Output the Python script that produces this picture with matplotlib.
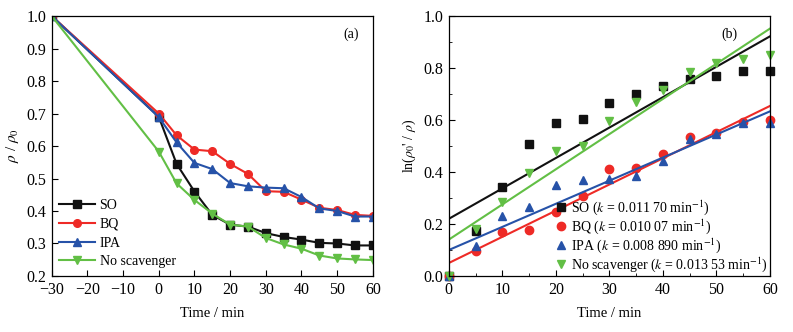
import matplotlib
matplotlib.use("Agg")
import matplotlib.pyplot as plt
import numpy as np

plt.rcParams['font.family'] = ['Liberation Serif', 'DejaVu Serif']
plt.rcParams['mathtext.fontset'] = 'stix'

# Panel (a)
time_a = [-30, 0, 5, 10, 15, 20, 25, 30, 35, 40, 45, 50, 55, 60]
so_a = [1.0, 0.69, 0.545, 0.46, 0.388, 0.358, 0.352, 0.332, 0.320, 0.312, 0.302, 0.300, 0.294, 0.294]
bq_a = [1.0, 0.70, 0.633, 0.589, 0.584, 0.545, 0.514, 0.461, 0.459, 0.435, 0.410, 0.403, 0.388, 0.385]
ipa_a = [1.0, 0.689, 0.611, 0.548, 0.529, 0.486, 0.476, 0.472, 0.470, 0.443, 0.408, 0.400, 0.383, 0.383]
no_a = [1.0, 0.583, 0.485, 0.434, 0.392, 0.358, 0.352, 0.317, 0.297, 0.284, 0.263, 0.254, 0.251, 0.249]

# Panel (b)
time_b = [0, 5, 10, 15, 20, 25, 30, 35, 40, 45, 50, 55, 60]
so_b = [0.0, 0.174, 0.341, 0.508, 0.589, 0.604, 0.665, 0.700, 0.731, 0.758, 0.768, 0.789, 0.789]
bq_b = [0.0, 0.097, 0.169, 0.178, 0.247, 0.307, 0.410, 0.416, 0.470, 0.536, 0.549, 0.594, 0.599]
ipa_b = [0.0, 0.117, 0.229, 0.265, 0.350, 0.370, 0.373, 0.383, 0.441, 0.527, 0.545, 0.588, 0.588]
no_b = [0.0, 0.180, 0.285, 0.395, 0.480, 0.500, 0.595, 0.670, 0.715, 0.785, 0.820, 0.835, 0.850]
slopes = [0.01170, 0.01007, 0.008890, 0.01353]
intercepts = [0.22, 0.05, 0.10, 0.14]
labels_a = ['SO', 'BQ', 'IPA', 'No scavenger']
labels_b = [r'SO ($k$ = 0.011 70 min$^{-1}$)', r'BQ ($k$ = 0.010 07 min$^{-1}$)',
            r'IPA ($k$ = 0.008 890 min$^{-1}$)', r'No scavenger ($k$ = 0.013 53 min$^{-1}$)']

colors = ['#111111', '#ee2a26', '#2652a8', '#62bf45']
markers = ['s', 'o', '^', 'v']

fig = plt.figure(figsize=(7.93, 3.32), dpi=100)
ax1 = fig.add_axes([0.0652, 0.1687, 0.405, 0.783])
ax2 = fig.add_axes([0.566, 0.1687, 0.405, 0.783])

tfs = 11.5
lfs = 10
for ys, c, m, lab in zip([so_a, bq_a, ipa_a, no_a], colors, markers, labels_a):
    ax1.plot(time_a, ys, color=c, marker=m, markersize=5.5, lw=1.5, label=lab)
ax1.set_xlim(-30, 60)
ax1.set_ylim(0.2, 1.0)
ax1.set_xticks(np.arange(-30, 61, 10))
ax1.set_yticks(np.arange(0.2, 1.01, 0.1))
ax1.set_xticklabels(['\u221230', '\u221220', '\u221210', '0', '10', '20', '30', '40', '50', '60'])
ax1.set_xlabel('Time / min', fontsize=lfs + 0.5, labelpad=7)
ax1.set_ylabel(r'$\rho$ / $\rho_0$', fontsize=lfs + 1)
ax1.text(0.955, 0.955, '(a)', transform=ax1.transAxes, ha='right', va='top', fontsize=lfs)
ax1.legend(loc='lower left', frameon=False, fontsize=lfs, handlelength=2.6,
           borderaxespad=0.25, labelspacing=0.42, handletextpad=0.3, borderpad=0.3)

tline = np.linspace(0, 60, 50)
for ys, c, m, lab, s, b in zip([so_b, bq_b, ipa_b, no_b], colors, markers, labels_b, slopes, intercepts):
    ax2.plot(time_b, ys, linestyle='none', color=c, marker=m, markersize=6, label=lab, clip_on=False)
    ax2.plot(tline, b + s * tline, color=c, lw=1.5)
ax2.set_xlim(0, 60)
ax2.set_ylim(0, 1.0)
ax2.set_xticks(np.arange(0, 61, 10))
ax2.set_xticks(np.arange(0, 61, 5), minor=True)
ax2.set_yticks(np.arange(0, 1.01, 0.2))
ax2.set_yticks(np.arange(0, 1.01, 0.1), minor=True)
ax2.set_xlabel('Time / min', fontsize=lfs + 0.5, labelpad=7)
ax2.set_ylabel(r"ln($\rho_0$' / $\rho$)", fontsize=lfs)
ax2.text(0.90, 0.955, '(b)', transform=ax2.transAxes, ha='right', va='top', fontsize=lfs)
ax2.legend(loc='lower right', frameon=False, fontsize=lfs, handlelength=0.8,
           borderaxespad=0.0, labelspacing=0.02, handletextpad=0.35, borderpad=0.15)

for ax in (ax1, ax2):
    ax.tick_params(which='both', direction='in', top=False, right=False, labelsize=tfs)
    ax.tick_params(which='major', length=4, pad=4)
    ax.tick_params(which='minor', length=2)
    for sp in ax.spines.values():
        sp.set_linewidth(0.9)

fig.savefig('out.png', dpi=100)
